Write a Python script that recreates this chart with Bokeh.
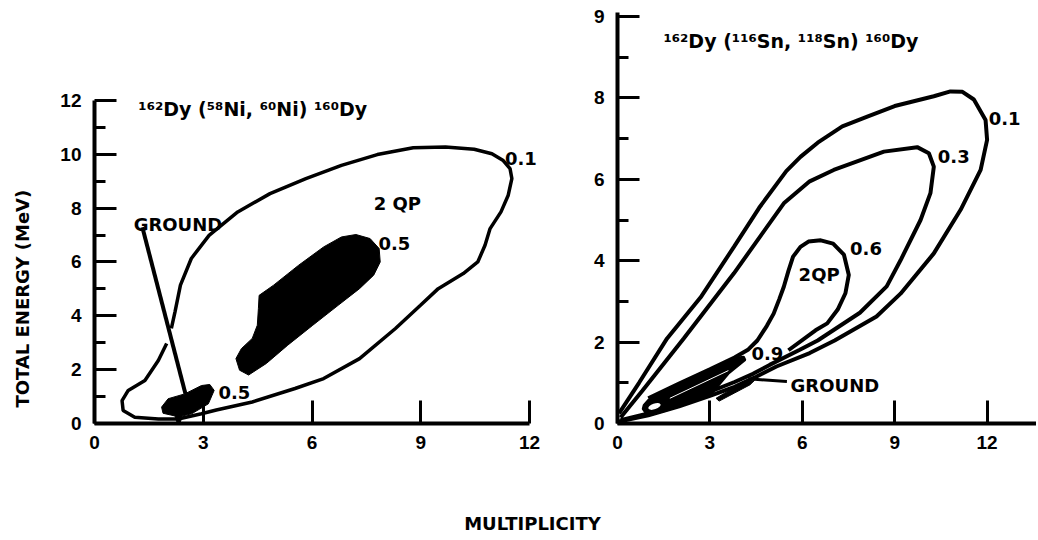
from bokeh.plotting import figure
from bokeh.layouts import row, column
from bokeh.models import FixedTicker
from bokeh.core.properties import value
from bokeh.embed import file_html
from bokeh.resources import INLINE
import math

FONT = "DejaVu Sans"
NUMFONT = "Liberation Sans"

# ---------------- left panel: 162Dy(58Ni,60Ni)160Dy ----------------
left_title = "¹⁶²Dy (⁵⁸Ni, ⁶⁰Ni) ¹⁶⁰Dy"
left_x_ticks = [0, 3, 6, 9, 12]
left_y_ticks = [0, 2, 4, 6, 8, 10, 12]
left_y_minor = [1, 3, 5, 7, 9, 11]

# 0.1 contour (open curve)
left_c01_x = [1.99, 1.76, 1.39, 0.93, 0.76, 0.79, 1.11, 1.76, 2.31, 2.95, 3.36, 4.35, 5.53, 6.32,
              7.31, 8.30, 8.99, 9.48, 10.17, 10.57, 10.77, 10.91, 11.21, 11.41, 11.51, 11.46,
              11.26, 10.96, 10.47, 9.68, 8.79, 7.80, 6.81, 5.83, 4.84, 3.95, 3.16, 2.67, 2.37,
              2.22, 2.12]
left_c01_y = [2.97, 2.34, 1.60, 1.23, 0.85, 0.48, 0.23, 0.17, 0.17, 0.36, 0.50, 0.80, 1.30, 1.67,
              2.41, 3.53, 4.39, 5.01, 5.57, 6.00, 6.62, 7.24, 7.86, 8.48, 9.10, 9.47,
              9.78, 10.02, 10.19, 10.27, 10.24, 9.99, 9.59, 9.10, 8.54, 7.86, 6.99, 6.13, 5.14,
              4.15, 3.53]
# 0.5 region, 2QP (filled)
left_c05_x = [4.54, 4.94, 5.63, 6.32, 6.81, 7.21, 7.60, 7.85, 7.88, 7.70, 7.31, 6.72, 6.02, 5.33,
              4.74, 4.25, 4.00, 3.90, 4.05, 4.35, 4.49, 4.52]
left_c05_y = [4.76, 5.14, 5.88, 6.56, 6.93, 7.02, 6.87, 6.50, 6.00, 5.51, 5.01, 4.39, 3.65, 2.91,
              2.23, 1.80, 1.98, 2.41, 2.78, 3.16, 3.65, 4.27]
# 0.5 region, ground band (filled)
left_g05_x = [1.85, 2.03, 2.49, 2.95, 3.18, 3.30, 3.14, 2.68, 2.42, 2.36, 2.28, 2.22, 1.89]
left_g05_y = [0.61, 0.92, 1.10, 1.41, 1.45, 1.23, 0.73, 0.36, 0.28, 0.02, 0.02, 0.28, 0.38]
# pointer from the GROUND label
left_ptr_x = [1.32, 2.51]
left_ptr_y = [7.29, 1.10]

left_lab_text = ["0.1", "2 QP", "0.5", "GROUND", "0.5"]
left_lab_x = [11.32, 7.70, 7.83, 1.08, 3.42]
left_lab_y = [9.84, 8.19, 6.70, 7.39, 1.17]

# ---------------- right panel: 162Dy(116Sn,118Sn)160Dy ----------------
right_title = "¹⁶²Dy (¹¹⁶Sn, ¹¹⁸Sn) ¹⁶⁰Dy"
right_x_ticks = [0, 3, 6, 9, 12]
right_y_ticks = [0, 2, 4, 6, 8, 10]
right_y_tick_labels = ["0", "2", "4", "6", "8", "9"]
right_y_minor = [1, 3, 5, 7, 9]

right_c01_x = [0.05, 0.70, 1.61, 2.70, 3.78, 4.60, 5.48, 5.94, 6.50, 7.30, 8.11, 9.00, 10.27, 10.81,
               11.20, 11.57, 11.95, 12.00, 11.79, 11.14, 10.27, 9.19, 8.41, 7.05, 6.24, 5.16,
               4.50, 3.80, 3.00, 2.00, 1.00, 0.05]
right_c01_y = [0.25, 1.00, 2.09, 3.10, 4.34, 5.30, 6.20, 6.55, 6.90, 7.30, 7.54, 7.80, 8.04, 8.16,
               8.15, 7.96, 7.46, 6.97, 6.23, 5.25, 4.18, 3.19, 2.63, 2.04, 1.73, 1.40,
               1.15, 0.90, 0.68, 0.42, 0.20, 0.05]
right_c03_x = [0.10, 0.80, 2.15, 3.78, 5.40, 6.24, 7.02, 8.65, 9.73, 10.11, 10.27, 10.16, 9.84,
               9.19, 8.74, 7.87, 6.50, 5.92, 4.94, 4.40, 3.80, 3.00, 2.00, 1.00, 0.10]
right_c03_y = [0.15, 0.80, 2.09, 3.69, 5.41, 5.95, 6.23, 6.68, 6.79, 6.64, 6.31, 5.66, 5.00,
               4.01, 3.37, 2.72, 2.04, 1.81, 1.44, 1.22, 1.02, 0.78, 0.50, 0.25, 0.08]
right_c06_x = [1.00, 2.00, 3.00, 3.80, 4.25, 4.54, 4.85, 5.07, 5.25, 5.40, 5.55, 5.70, 5.94, 6.20,
               6.60, 7.00, 7.35, 7.51, 7.40, 7.15, 6.81, 6.43, 5.55]
right_c06_y = [0.62, 0.98, 1.33, 1.62, 1.82, 2.04, 2.40, 2.70, 3.05, 3.36, 3.75, 4.10, 4.34, 4.47,
               4.50, 4.42, 4.15, 3.65, 3.20, 2.80, 2.46, 2.29, 1.80]
# 0.9 region (filled)
right_c09_x = [0.85, 1.00, 1.50, 2.00, 2.50, 3.00, 3.50, 3.90, 4.10, 4.15, 4.00, 3.60, 3.30, 3.05,
               2.50, 2.00, 1.50, 1.10, 0.90, 0.82]
right_c09_y = [0.45, 0.58, 0.78, 0.96, 1.13, 1.30, 1.48, 1.62, 1.64, 1.56, 1.47, 1.22, 0.95, 0.72,
               0.55, 0.42, 0.30, 0.22, 0.27, 0.36]
# ground band (filled)
right_gnd_x = [3.20, 3.60, 4.10, 4.45, 4.30, 3.80, 3.30]
right_gnd_y = [0.62, 0.80, 0.98, 1.06, 0.95, 0.75, 0.55]
right_ptr_x = [5.50, 4.25]
right_ptr_y = [1.03, 1.10]

right_lab_text = ["0.1", "0.3", "0.6", "2QP", "0.9", "GROUND"]
right_lab_x = [12.05, 10.40, 7.55, 5.88, 4.35, 5.62]
right_lab_y = [7.50, 6.56, 4.30, 3.65, 1.73, 0.93]

y_label = "TOTAL ENERGY (MeV)"
x_label = "MULTIPLICITY"

# shared vertical frame geometry (row children get their frames aligned)
TOP, FRAME_H, BOTTOM = 4, 419, 47


def style_axes(p, xticks, yticks, yminor, overrides=None):
    p.grid.visible = False
    p.outline_line_color = None
    p.xaxis.ticker = FixedTicker(ticks=xticks, minor_ticks=[])
    p.yaxis.ticker = FixedTicker(ticks=yticks, minor_ticks=yminor)
    for ax in (p.xaxis, p.yaxis):
        ax.axis_line_width = 4
        ax.axis_line_color = "black"
        ax.major_tick_line_width = 3
        ax.major_tick_line_color = "black"
        ax.minor_tick_line_width = 3
        ax.minor_tick_line_color = "black"
        ax.major_tick_out = 0
        ax.minor_tick_out = 0
        ax.major_label_text_font = NUMFONT
        ax.major_label_text_font_style = "bold"
        ax.major_label_text_font_size = "19px"
        ax.major_label_text_color = "black"
    p.xaxis.major_tick_in = 23
    p.yaxis.major_tick_in = 22
    p.yaxis.minor_tick_in = 11
    p.xaxis.major_label_standoff = 12
    p.yaxis.major_label_standoff = 13
    if overrides:
        p.yaxis.major_label_overrides = overrides


def labels(p, xs, ys, texts, size="18px"):
    p.text(x=xs, y=ys, text=texts, text_font=value(FONT), text_font_style="bold",
           text_font_size=size, text_align="left", text_baseline="middle", text_color="black")


# ---- left figure ----
p1 = figure(frame_width=446, frame_height=FRAME_H, x_range=(0, 12.3), y_range=(0, FRAME_H / 26.92),
            min_border_left=54, min_border_right=37, min_border_top=TOP, min_border_bottom=BOTTOM,
            toolbar_location=None, output_backend="svg", background_fill_color="white")
style_axes(p1, left_x_ticks, left_y_ticks, left_y_minor)
p1.xaxis.bounds = (0, 12)
p1.yaxis.bounds = (0, 12)
p1.line(left_c01_x, left_c01_y, line_color="black", line_width=3.5)
p1.patch(left_c05_x, left_c05_y, fill_color="black", line_color="black", line_width=1)
p1.patch(left_g05_x, left_g05_y, fill_color="black", line_color="black", line_width=1)
p1.line(left_ptr_x, left_ptr_y, line_color="black", line_width=4)
labels(p1, left_lab_x, left_lab_y, left_lab_text)
p1.text(x=[1.21], y=[11.70], text=[left_title], text_font=value(FONT), text_font_style="bold",
        text_font_size="19px", text_align="left", text_baseline="alphabetic")

# ---- right figure ----
p2 = figure(frame_width=419, frame_height=FRAME_H, x_range=(0, 419 / 30.8), y_range=(0, FRAME_H / 40.7),
            min_border_left=40, min_border_right=0, min_border_top=TOP, min_border_bottom=BOTTOM,
            toolbar_location=None, output_backend="svg", background_fill_color="white")
style_axes(p2, right_x_ticks, right_y_ticks, right_y_minor,
           dict(zip(right_y_ticks, right_y_tick_labels)))
p2.yaxis.bounds = (0, 10.1)
for cx, cy in ((right_c01_x, right_c01_y), (right_c03_x, right_c03_y), (right_c06_x, right_c06_y)):
    p2.line(cx, cy, line_color="black", line_width=4)
p2.patch(right_c09_x, right_c09_y, fill_color="black", line_color="black", line_width=2)
p2.patch(right_gnd_x, right_gnd_y, fill_color="black", line_color="black", line_width=1)
p2.ellipse(x=[1.2], y=[0.42], width=0.42, height=0.14, angle=0.35,
           fill_color="white", line_color=None)
p2.line([1.7, 3.6], [0.62, 1.30], line_color="white", line_width=1)
p2.line(right_ptr_x, right_ptr_y, line_color="black", line_width=3)
labels(p2, right_lab_x, right_lab_y, right_lab_text)
p2.text(x=[1.49], y=[9.41], text=[right_title], text_font=value(FONT), text_font_style="bold",
        text_font_size="19px", text_align="left", text_baseline="alphabetic")

# ---- strips carrying the shared axis titles ----
ps = figure(frame_width=40, frame_height=FRAME_H, x_range=(0, 1), y_range=(0, 1),
            x_axis_type=None, y_axis_type=None, min_border_left=0, min_border_right=0,
            min_border_top=TOP, min_border_bottom=BOTTOM, toolbar_location=None,
            output_backend="svg", outline_line_color=None)
ps.text(x=[0.55], y=[0.298], text=[y_label], angle=math.pi / 2, text_font=value(FONT),
        text_font_style="bold", text_font_size="18px", text_align="center",
        text_baseline="middle")

pb = figure(frame_width=1036, frame_height=66, x_range=(0, 1), y_range=(0, 1),
            x_axis_type=None, y_axis_type=None, min_border=0, toolbar_location=None,
            output_backend="svg", outline_line_color=None)
pb.text(x=[0.5135], y=[0.197], text=[x_label], text_font=value(FONT), text_font_style="bold",
        text_font_size="18px", text_align="center", text_baseline="middle")

layout = column(row(ps, p1, p2), pb)
open("out.html", "w").write(file_html(layout, INLINE))
